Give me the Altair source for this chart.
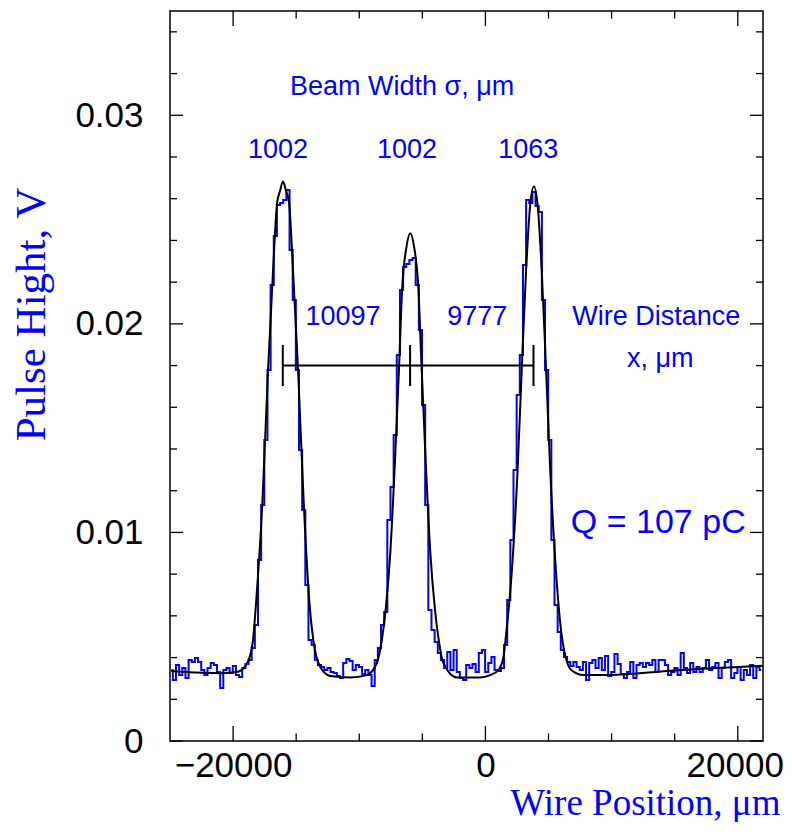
import altair as alt
import pandas as pd

# ---------------- data ----------------
BIN_START = -24900   # um, centre of first bin
BIN_WIDTH = 250      # um
pulse = [
    # left baseline
    0.00340, 0.00292, 0.00364, 0.00316, 0.00350, 0.00302, 0.00388, 0.00379, 0.00398, 0.00379,
    0.00340, 0.00316, 0.00350, 0.00374, 0.00364, 0.00331, 0.00254, 0.00340, 0.00350, 0.00326,
    0.00360, 0.00316, 0.00307, 0.00350, 0.00369, 0.00388, 0.00446,
    # peak 1
    0.00556, 0.00868, 0.01132, 0.01443, 0.01779, 0.02186, 0.02421, 0.02570, 0.02579, 0.02594,
    0.02642, 0.02354, 0.02114, 0.01779, 0.01395, 0.01108, 0.00748, 0.00484, 0.00460, 0.00388,
    0.00364,
    # baseline between 1 and 2
    0.00355, 0.00340, 0.00350, 0.00331, 0.00326, 0.00312, 0.00302, 0.00374, 0.00393, 0.00384,
    0.00340, 0.00364, 0.00355, 0.00321, 0.00340, 0.00316, 0.00264, 0.00388, 0.00446, 0.00556,
    0.00618,
    # peak 2
    0.01060, 0.01218, 0.01467, 0.01851, 0.02162, 0.02273, 0.02287, 0.02306, 0.02316, 0.02186,
    0.01971, 0.01611, 0.01132, 0.00628, 0.00532, 0.00475, 0.00422,
    # baseline between 2 and 3
    0.00388, 0.00350, 0.00427, 0.00340, 0.00436, 0.00331, 0.00302, 0.00292, 0.00364, 0.00350,
    0.00369, 0.00331, 0.00422, 0.00436, 0.00331, 0.00374, 0.00403, 0.00340, 0.00336, 0.00350,
    0.00460,
    # peak 3
    0.00676, 0.00964, 0.01299, 0.01659, 0.01851, 0.02282, 0.02594, 0.02579, 0.02632, 0.02565,
    0.02536, 0.02114, 0.01779, 0.01443, 0.00964, 0.00652, 0.00523, 0.00436, 0.00403, 0.00379,
    0.00360,
    # right baseline
    0.00379, 0.00355, 0.00340, 0.00379, 0.00292, 0.00374, 0.00388, 0.00350, 0.00398, 0.00340,
    0.00408, 0.00312, 0.00331, 0.00417, 0.00369, 0.00321, 0.00302, 0.00331, 0.00379, 0.00302,
    0.00364, 0.00374, 0.00355, 0.00374, 0.00364, 0.00388, 0.00331, 0.00388, 0.00388, 0.00364,
    0.00316, 0.00331, 0.00350, 0.00316, 0.00422, 0.00350, 0.00326, 0.00374, 0.00331, 0.00355,
    0.00331, 0.00350, 0.00388, 0.00340, 0.00355, 0.00374, 0.00302, 0.00350, 0.00379, 0.00388,
    0.00302, 0.00326, 0.00355, 0.00292, 0.00340, 0.00316, 0.00364, 0.00302, 0.00355, 0.00340,
]
wire_pos = [BIN_START + i * BIN_WIDTH for i in range(len(pulse))]

fit_x = [-24900, -22500, -20900, -19600, -19080, -18680, -18420, -18180, -17680, -17230,
         -16830, -16515, -16280, -16040, -15800, -15560, -15250, -14850, -14400, -13950,
         -13640, -13100, -12310, -10730, -9400, -8610, -8210, -7910, -7540, -7140,
         -6840, -6590, -6270, -5955, -5640, -5320, -5065, -4765, -4365, -3995,
         -3700, -3330, -2265, -420, 375, 1035, 1430, 1620, 2100, 2550,
         2890, 3225, 3550, 3840, 4135, 4460, 4795, 5135, 5585, 6060,
         6800, 7775, 9890, 14650, 22000]
fit_y = [0.00336, 0.00327, 0.00325, 0.00332, 0.00356, 0.00404, 0.00484, 0.00662, 0.01141, 0.01779,
         0.02258, 0.02579, 0.02637, 0.02682, 0.02637, 0.02579, 0.02258, 0.01779, 0.01141, 0.00662,
         0.00484, 0.00356, 0.00312, 0.00305, 0.00316, 0.00374, 0.00484, 0.00628, 0.00901, 0.01381,
         0.01799, 0.02178, 0.02364, 0.02434, 0.02364, 0.02178, 0.01799, 0.01381, 0.00901, 0.00628,
         0.00484, 0.00374, 0.00305, 0.00305, 0.00316, 0.00340, 0.00404, 0.00500, 0.00820, 0.01299,
         0.01799, 0.02258, 0.02570, 0.02658, 0.02570, 0.02258, 0.01799, 0.01299, 0.00820, 0.00500,
         0.00340, 0.00316, 0.00316, 0.00337, 0.00361]

# wire distance markers
wire_centres = [-16060, -5970, 3810]
bar_level = 0.018
bar_low, bar_high = 0.01702, 0.01899

labels = ["Beam Width σ, μm", "1002", "1002", "1063", "10097", "9777", "Wire Distance", "x, μm"]
label_x = [-6600, -16440, -6210, 3390, -11280, -650, 13540, 13860]
label_y = [0.03097, 0.02795, 0.02795, 0.02795, 0.01995, 0.01995, 0.01995, 0.01793]
charge_label = ["Q = 107 pC"]
charge_x = [13700]
charge_y = [0.00997]

x_major = [-20000, 0, 20000]
x_minor = [-15000, -10000, -5000, 5000, 10000, 15000]
y_major = [0.0, 0.01, 0.02, 0.03]
y_minor = [0.002, 0.004, 0.006, 0.008, 0.012, 0.014, 0.016, 0.018, 0.022, 0.024,
           0.026, 0.028, 0.032, 0.034]

# ---------------- chart ----------------
W, H = 593, 730
BLUE = "#0000ff"
SANS = "Liberation Sans"
SERIF = "Liberation Serif"

xs = alt.Scale(domain=[-25000, 22000], nice=False, zero=False)
ys = alt.Scale(domain=[0, 0.035], nice=False, zero=False)

data_df = pd.DataFrame({"pos": wire_pos, "v": pulse})
fit_df = pd.DataFrame({"pos": fit_x, "v": fit_y})

data_line = alt.Chart(data_df).mark_line(color=BLUE, strokeWidth=2, interpolate="step").encode(
    x=alt.X("pos:Q", scale=xs,
            axis=alt.Axis(values=x_major, format="d", ticks=False, domain=False, grid=False,
                          labelFont=SANS, labelFontSize=35, labelColor="black", labelPadding=7,
                          labelFlush=False, labelOverlap=False,
                          labelOffset={"condition": {"test": "datum.value == 20000", "value": -3},
                                       "value": 0},
                          title="Wire Position, μm", titleFont=SERIF, titleFontSize=37,
                          titleFontWeight="normal", titleColor=BLUE, titleAlign="right",
                          titleAnchor="end", titleX=610, titleY=73, titleBaseline="alphabetic")),
    y=alt.Y("v:Q", scale=ys,
            axis=alt.Axis(values=y_major, ticks=False, domain=False, grid=False,
                          labelExpr="datum.value == 0 ? '0' : format(datum.value, '.2f')",
                          labelFont=SANS, labelFontSize=35, labelColor="black", labelPadding=27,
                          labelBaseline="middle", labelFlush=False, labelOverlap=False,
                          title="Pulse Hight, V", titleFont=SERIF, titleFontSize=43,
                          titleFontWeight="normal", titleColor=BLUE, titleAngle=270,
                          titleAlign="center", titleX=-126, titleY=303,
                          titleBaseline="alphabetic")),
)

X = alt.X("pos:Q", scale=xs)
Y = alt.Y("v:Q", scale=ys)

fit_line = alt.Chart(fit_df).mark_line(color="black", strokeWidth=2, interpolate="monotone").encode(
    x=X, y=Y)

hbar = alt.Chart(pd.DataFrame({"pos": [wire_centres[0]], "pos2": [wire_centres[-1]], "v": [bar_level]})).mark_rule(
    color="black", strokeWidth=2).encode(x=X, x2="pos2:Q", y=Y)

vbars = alt.Chart(pd.DataFrame({"pos": wire_centres, "v": [bar_low] * 3, "v2": [bar_high] * 3})).mark_rule(
    color="black", strokeWidth=2).encode(x=X, y=Y, y2="v2:Q")

txt_df = pd.DataFrame({"pos": label_x, "v": label_y, "t": labels})
texts = alt.Chart(txt_df).mark_text(font=SANS, fontSize=27, color=BLUE, align="center",
                                    baseline="alphabetic").encode(x=X, y=Y, text="t:N")

q_df = pd.DataFrame({"pos": charge_x, "v": charge_y, "t": charge_label})
qtext = alt.Chart(q_df).mark_text(font=SANS, fontSize=34, color=BLUE, align="center",
                                  baseline="alphabetic").encode(x=X, y=Y, text="t:N")


def xticks(vals, length):
    df = pd.DataFrame({"pos": vals})
    base = alt.Chart(df).mark_rule(color="black", strokeWidth=1.3)
    bottom = base.encode(x=X, y=alt.value(H), y2=alt.value(H - length))
    top = base.encode(x=X, y=alt.value(0), y2=alt.value(length))
    return [bottom, top]


def yticks(vals, length):
    df = pd.DataFrame({"v": vals})
    base = alt.Chart(df).mark_rule(color="black", strokeWidth=1.3)
    left = base.encode(y=Y, x=alt.value(0), x2=alt.value(length))
    right = base.encode(y=Y, x=alt.value(W), x2=alt.value(W - length))
    return [left, right]


tick_layers = xticks(x_major, 15) + xticks(x_minor, 7.5) + yticks(y_major, 13) + yticks(y_minor, 7)

chart = alt.layer(
    data_line, fit_line, hbar, vbars, texts, qtext, *tick_layers
).properties(
    width=W, height=H,
    autosize=alt.AutoSizeParams(type="none"),
    padding={"left": 162, "top": 3, "right": 21, "bottom": 81},
).configure_view(
    stroke="black", strokeWidth=1.5
)

chart.save("out.html", embed_options={"renderer": "svg", "actions": False})
